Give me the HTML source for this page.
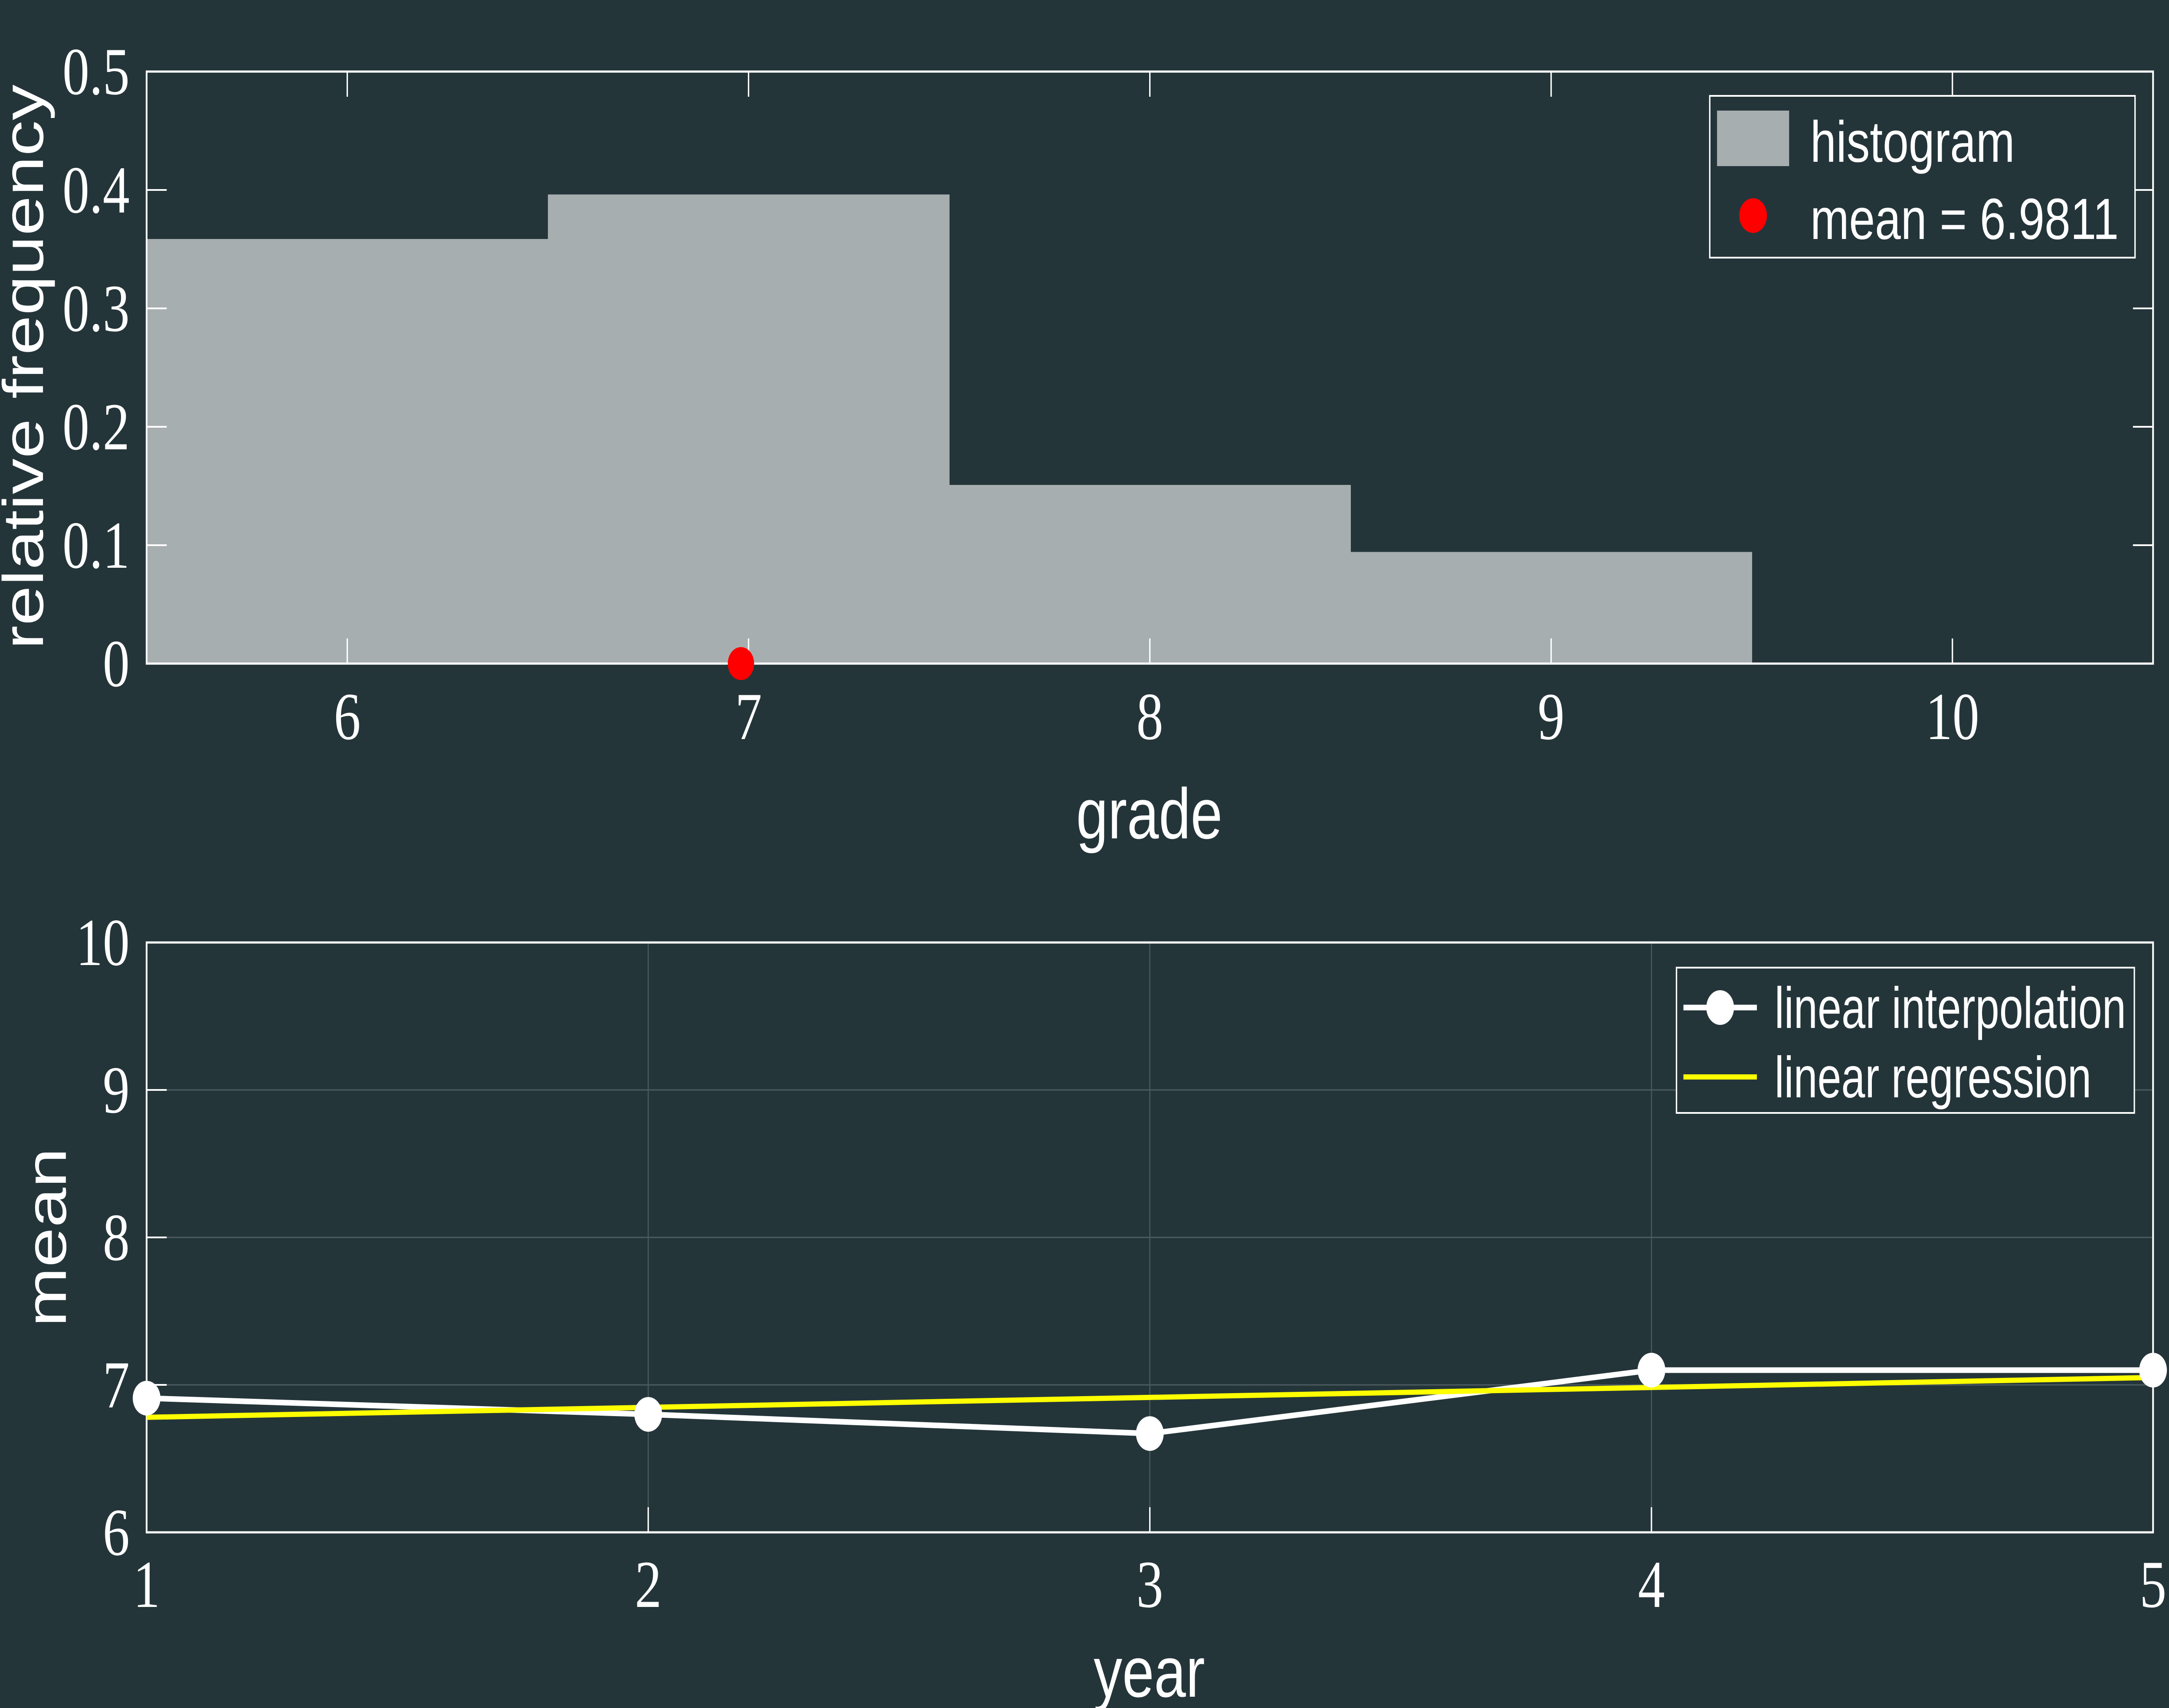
<!DOCTYPE html>
<html><head><meta charset="utf-8"><style>
html,body{margin:0;padding:0;background:#24353a;width:100%;height:100%;overflow:hidden;}
svg#c{display:block;width:100vw;height:100vh;}
.tk{font-family:"Liberation Serif",serif;font-size:155px;fill:#fff}
.lb{font-family:"Liberation Sans",sans-serif;font-size:165px;fill:#fff}
.lg{font-family:"Liberation Sans",sans-serif;font-size:134px;fill:#fff}
</style></head><body>
<svg id="c" viewBox="0 0 6258 3938" preserveAspectRatio="none" xmlns="http://www.w3.org/2000/svg">
<rect width="6258" height="3938" fill="#24353a"/>
</svg>
<script>
const binEdges=[5.5,6.5,7.5,8.5,9.5];
const binFreq=[0.3586,0.3962,0.1509,0.0943];
const meanGrade=6.9811;
const xTicksTop=[6,7,8,9,10];
const yTicksTop=[0,0.1,0.2,0.3,0.4,0.5];
const years=[1,2,3,4,5];
const means=[6.91,6.80,6.67,7.10,7.10];
const regY=[6.78,7.05];
const yTicksBot=[6,7,8,9,10];

const NS="http://www.w3.org/2000/svg";
const svg=document.getElementById('c');
function mk(t,a,p){const e=document.createElementNS(NS,t);for(const k in a)e.setAttribute(k,a[k]);(p||svg).appendChild(e);return e;}
const L=423,R=6212;
const tT=165,tB=1530;
const xt=v=>L+(v-5.5)/5*(R-L);
const yt=v=>tB-v/0.5*(tB-tT);
for(let i=0;i<binFreq.length;i++){
 const r=mk('rect',{x:xt(binEdges[i]),y:yt(binFreq[i]),width:xt(binEdges[i+1])-xt(binEdges[i])+1,height:tB-yt(binFreq[i]),fill:'#a7aeb0'});
 
 
}
xTicksTop.forEach(v=>{
 const x=xt(v);
 mk('line',{x1:x,x2:x,y1:tB,y2:tB-58,stroke:'#fff','stroke-width':4});
 mk('line',{x1:x,x2:x,y1:tT,y2:tT+58,stroke:'#fff','stroke-width':4});
 const t=mk('text',{x:x,y:1704,'text-anchor':'middle',class:'tk'});t.textContent=v;
 
 
});
yTicksTop.forEach(v=>{
 const y=yt(v);
 mk('line',{x1:L,x2:L+58,y1:y,y2:y,stroke:'#fff','stroke-width':4});
 mk('line',{x1:R,x2:R-58,y1:y,y2:y,stroke:'#fff','stroke-width':4});
 const t=mk('text',{x:374,y:y+52,'text-anchor':'end',class:'tk'});t.textContent=v;
 
 
});
const mb=mk('rect',{x:L,y:tT,width:R-L,height:tB-tT,fill:'none',stroke:'#fff','stroke-width':5});


const md=mk('circle',{cx:xt(meanGrade),cy:yt(0),r:38,fill:'#ff0000'});


const bT=2173,bB=3533;
const xb=v=>L+(v-1)/4*(R-L);
const yb=v=>bB-(v-6)/4*(bB-bT);
years.forEach(v=>{const x=xb(v);mk('line',{x1:x,x2:x,y1:bT,y2:bB,stroke:'#4b5b5f','stroke-width':3});});
yTicksBot.forEach(v=>{const y=yb(v);mk('line',{x1:L,x2:R,y1:y,y2:y,stroke:'#4b5b5f','stroke-width':3});});
years.forEach(v=>{
 const x=xb(v);
 mk('line',{x1:x,x2:x,y1:bB,y2:bB-58,stroke:'#fff','stroke-width':4});
 const t=mk('text',{x:x,y:3705,'text-anchor':'middle',class:'tk'});t.textContent=v;
 
 
});
yTicksBot.forEach(v=>{
 const y=yb(v);
 mk('line',{x1:L,x2:L+58,y1:y,y2:y,stroke:'#fff','stroke-width':4});
 const t=mk('text',{x:374,y:y+52,'text-anchor':'end',class:'tk'});t.textContent=v;
 
 
});
const bb=mk('rect',{x:L,y:bT,width:R-L,height:bB-bT,fill:'none',stroke:'#fff','stroke-width':5});


const pl=mk('polyline',{points:years.map((v,i)=>xb(v)+','+yb(means[i])).join(' '),fill:'none',stroke:'#fff','stroke-width':13,'stroke-linejoin':'round'});


const rl=mk('line',{x1:xb(years[0]),y1:yb(regY[0]),x2:xb(years[years.length-1]),y2:yb(regY[1]),stroke:'#ffff00','stroke-width':12});


years.forEach((v,i)=>{
 const c=mk('circle',{cx:xb(v),cy:yb(means[i]),r:40,fill:'#fff'});
 
 
});
</script>
<script>
(function(){
const NS="http://www.w3.org/2000/svg";const svg=document.getElementById('c');
function mk(t,a){const e=document.createElementNS(NS,t);for(const k in a)e.setAttribute(k,a[k]);svg.appendChild(e);return e;}
function tx(s,a,name){const e=mk('text',a);e.textContent=s;return e;}
tx('grade',{x:3316,y:1933,'text-anchor':'middle',class:'lb'},'x-axis-title');
tx('year',{x:3316,y:3912,'text-anchor':'middle',class:'lb'},'x-axis-title-bottom');
tx('relative frequency',{x:0,y:0,'text-anchor':'middle',class:'lb',transform:'translate(124,846) rotate(-90)'},'y-axis-title');
tx('mean',{x:0,y:0,'text-anchor':'middle',class:'lb',transform:'translate(190,2853) rotate(-90)'},'y-axis-title-bottom');
const l1=mk('rect',{x:4933,y:221,width:1227,height:373,fill:'#24353a',stroke:'#fff','stroke-width':4});

mk('rect',{x:4954,y:255,width:208,height:128,fill:'#a7aeb0'});
mk('circle',{cx:5058,cy:497,r:40,fill:'#ff0000'});
tx('histogram',{x:5223,y:373,class:'lg',textLength:590,lengthAdjust:'spacingAndGlyphs'},'legend-entry-histogram');
tx('mean = 6.9811',{x:5223,y:551,class:'lg',textLength:890,lengthAdjust:'spacingAndGlyphs'},'legend-entry-mean');
const l2=mk('rect',{x:4837,y:2231,width:1321,height:335,fill:'#24353a',stroke:'#fff','stroke-width':4});

mk('line',{x1:4857,x2:5069,y1:2323,y2:2323,stroke:'#fff','stroke-width':13});
mk('circle',{cx:4963,cy:2323,r:40,fill:'#fff'});
mk('line',{x1:4857,x2:5069,y1:2483,y2:2483,stroke:'#ffff00','stroke-width':12});
tx('linear interpolation',{x:5120,y:2370,class:'lg',textLength:1014,lengthAdjust:'spacingAndGlyphs'},'legend-entry-interpolation');
tx('linear regression',{x:5120,y:2530,class:'lg',textLength:914,lengthAdjust:'spacingAndGlyphs'},'legend-entry-regression');
})();
</script>
</body></html>
